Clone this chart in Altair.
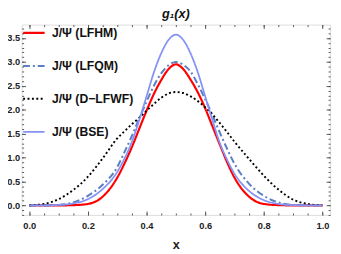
import altair as alt
import pandas as pd

x_vals = [0, 0.05, 0.1, 0.15, 0.2, 0.25,
          0.3, 0.325, 0.35, 0.375, 0.4, 0.425, 0.45, 0.475, 0.5,
          0.525, 0.55, 0.575, 0.6, 0.625, 0.65, 0.675, 0.7,
          0.75, 0.8, 0.85, 0.9, 0.95, 1.0]

lfhm = [0, 0, 0, 0.005, 0.03, 0.18,
        0.58, 0.88, 1.22, 1.6, 1.98, 2.33, 2.62, 2.85, 2.95,
        2.85, 2.63, 2.36, 2.03, 1.65, 1.27, 0.9, 0.58,
        0.18, 0.03, 0.005, 0, 0, 0]

lfqm = [0, 0, 0.01, 0.06, 0.2, 0.43,
        0.8, 1.12, 1.45, 1.82, 2.17, 2.5, 2.76, 2.93, 3.0,
        2.94, 2.8, 2.53, 2.22, 1.88, 1.52, 1.18, 0.87,
        0.45, 0.2, 0.06, 0.01, 0, 0]

dlfwf = [0, 0.03, 0.13, 0.32, 0.6, 0.98,
         1.4, 1.55, 1.7, 1.83, 1.98, 2.12, 2.25, 2.34, 2.37,
         2.35, 2.28, 2.18, 2.05, 1.9, 1.72, 1.53, 1.33,
         0.97, 0.62, 0.33, 0.12, 0.03, 0]

bse = [0, 0, 0.01, 0.04, 0.13, 0.34,
       0.7, 0.98, 1.33, 1.78, 2.28, 2.78, 3.18, 3.46, 3.57,
       3.46, 3.18, 2.78, 2.28, 1.78, 1.3, 0.95, 0.66,
       0.3, 0.11, 0.03, 0.005, 0, 0]

series_names = ["J/Ψ (LFHM)", "J/Ψ (LFQM)", "J/Ψ (D\u2212LFWF)", "J/Ψ (BSE)"]
series_vals = [lfhm, lfqm, dlfwf, bse]
colors = ["#ff0000", "#5b7fc4", "#000000", "#8593f6"]
dashes = [[1, 0], [7, 3, 2, 3], [2, 2.5], [1, 0]]
widths = [2.2, 1.8, 2.0, 0.6]

x_major = [0, 0.2, 0.4, 0.6, 0.8, 1.0]
x_minor = [round(i * 0.05, 2) for i in range(21)]
y_major = [0, 0.5, 1.0, 1.5, 2.0, 2.5, 3.0, 3.5]
y_minor = [round(i * 0.1, 1) for i in range(-2, 38)]

rows = []
for name, vals in zip(series_names, series_vals):
    for xv, yv in zip(x_vals, vals):
        rows.append({"x": xv, "y": yv, "series": name})
df = pd.DataFrame(rows)

xs = alt.Scale(domain=[-0.026, 1.026], nice=False, zero=False)
ys = alt.Scale(domain=[-0.2, 3.78], nice=False, zero=False)

FONT = "Liberation Sans"
FRAME = "#555555"

def tick_axis(orient, values, size, labels=False, **kw):
    return alt.Axis(orient=orient, values=values, tickSize=size, offset=-size,
                    domain=False, grid=False, labels=labels, title=None,
                    tickColor=FRAME, tickWidth=1, **kw)

def legend():
    return alt.Legend(title=None, orient="none", legendX=0, legendY=-4,
                      symbolType="stroke", symbolSize=484,
                      labelFont=FONT, labelFontSize=12.5,
                      labelFontWeight="bold", labelColor="#111",
                      rowPadding=15, labelOffset=6)

main = alt.Chart(df).mark_line(interpolate="monotone", strokeCap="butt").encode(
    x=alt.X("x:Q", scale=xs, axis=alt.Axis(
        orient="bottom", values=x_major, format=".1f", tickSize=4, offset=-4,
        domain=False, grid=False, labelFont=FONT, labelFontWeight="bold",
        labelFontSize=9.5, labelPadding=6, labelColor="#222",
        tickColor=FRAME, title="x", titleFont=FONT, titleFontSize=13,
        titleFontWeight="bold", titlePadding=9, titleColor="#222")),
    y=alt.Y("y:Q", scale=ys, axis=alt.Axis(
        orient="left", values=y_major, format=".1f", tickSize=4, offset=-4,
        domain=False, grid=False, labelFont=FONT, labelFontWeight="bold",
        labelFontSize=9.5, labelPadding=2, labelColor="#222",
        tickColor=FRAME, title=None)),
    color=alt.Color("series:N", scale=alt.Scale(domain=series_names, range=colors),
                    legend=legend()),
    strokeDash=alt.StrokeDash("series:N", scale=alt.Scale(domain=series_names, range=dashes),
                              legend=legend()),
    strokeWidth=alt.StrokeWidth("series:N", scale=alt.Scale(domain=series_names, range=widths),
                                legend=legend()),
)

def ghost(xa, ya):
    return alt.Chart(df).mark_line(strokeOpacity=0).encode(
        x=alt.X("x:Q", scale=xs, axis=xa),
        y=alt.Y("y:Q", scale=ys, axis=ya),
        detail="series:N",
    )

g1 = ghost(tick_axis("bottom", x_minor, 2), tick_axis("left", y_minor, 2))
g2 = ghost(tick_axis("top", x_major, 4), tick_axis("right", y_major, 4))
g3 = ghost(tick_axis("top", x_minor, 2), tick_axis("right", y_minor, 2))

chart = alt.layer(main, g1, g2, g3).resolve_axis(
    x="independent", y="independent"
).properties(
    width=316, height=195,
    autosize=alt.AutoSizeParams(type="none"),
    padding={"left": 14, "top": 14, "right": 3, "bottom": 37},
    title=alt.TitleParams("g₁(x)", font=FONT, fontSize=13, fontWeight="bold",
                          fontStyle="italic", anchor="middle", offset=0, color="#111"),
).configure_view(stroke=FRAME, strokeWidth=1).configure(background="white")

chart.save("out.html", embed_options={"renderer": "svg", "actions": False})
